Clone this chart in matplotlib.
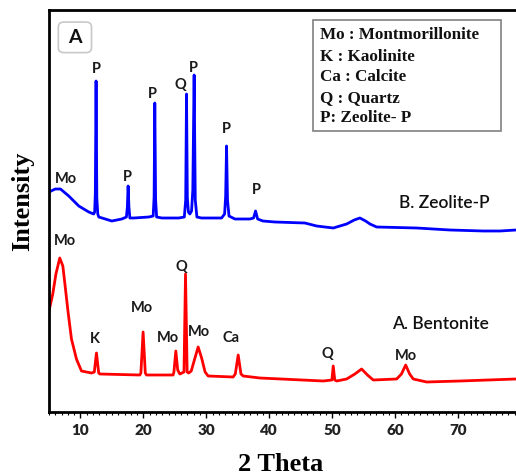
import matplotlib
matplotlib.use("Agg")
import matplotlib.pyplot as plt
from matplotlib.patches import Rectangle, FancyBboxPatch
from matplotlib.ticker import MultipleLocator

# XRD patterns (2 theta in degrees, intensity in arbitrary units, stacked)
zeolite_2theta = [5.0, 6.0, 6.82, 8.14, 9.73, 11.32, 12.11, 12.25, 12.36, 12.48, 12.6, 12.75, 12.91,
                  14.98, 16.57, 17.3, 17.45, 17.57, 17.7, 17.85, 18.47, 20.86,
                  21.55, 21.7, 21.81, 21.94, 22.1, 22.93, 25.63,
                  26.5, 26.72, 26.85, 26.98, 27.15, 27.38, 27.65, 27.85, 28.06, 28.24, 28.5, 29.24,
                  32.42, 32.9, 33.07, 33.21, 33.36, 33.6, 34.53, 36.91,
                  37.5, 37.82, 38.15, 38.98, 40.89, 45.66, 47.52, 50.16, 52.29, 53.5, 54.4,
                  55.3, 56.0, 57.06, 63.42, 68.71, 74.0, 76.66, 79.2]
zeolite_int = [220, 223, 223, 216, 206, 200, 198, 200, 218, 331, 214, 198, 195,
               191, 193, 195, 205, 226, 205, 194, 194, 195,
               196, 215, 309, 212, 195, 194, 194,
               195, 212, 318, 214, 200, 198, 201, 222, 337, 212, 195, 194,
               194, 198, 216, 266, 212, 196, 193, 193,
               194, 201, 193, 191, 190, 189, 186, 184, 188, 192, 194,
               191, 188, 185, 184, 182, 181, 181, 182]

bentonite_2theta = [5.0, 5.6, 6.1, 6.71, 7.2, 7.6, 8.03, 8.57, 9.36, 10.16, 11.75,
                    12.2, 12.54, 12.9, 13.07, 19.43, 19.6, 19.95, 20.3, 20.49,
                    24.72, 24.85, 25.15, 25.45, 25.79, 26.45, 26.69, 26.95, 27.2,
                    27.6, 28.1, 28.7, 29.25, 29.8, 30.29, 34.26, 34.6, 35.06, 35.5, 35.85,
                    38.5, 48.57, 49.95, 50.16, 50.4, 50.7, 52.29, 53.6, 54.67, 55.6, 56.52,
                    60.24, 61.0, 61.67, 62.3, 62.88, 65.0, 70.3, 79.2]
bentonite_int = [101, 118, 138, 154, 146, 124, 100, 73, 53, 41, 39,
                 40, 59, 39, 38, 37, 39, 80, 39, 37,
                 37, 40, 61, 42, 38, 40, 138, 40, 39,
                 41, 52, 65, 54, 40, 36, 35, 38, 57, 38, 36,
                 34, 31, 32, 46, 32, 31, 33, 38, 43, 37, 32,
                 33, 38, 47, 38, 33, 30, 31, 33]

# phase labels over the peaks
zeolite_labels = ["Mo", "P", "P", "P", "Q", "P", "P", "P"]
zeolite_label_x = [7.66, 12.51, 17.52, 21.49, 25.95, 28.01, 33.26, 37.87]
zeolite_label_y = [234, 344, 236, 319, 328, 345, 284, 223]

bentonite_labels = ["Mo", "K", "Mo", "Mo", "Q", "Mo", "Ca", "Q", "Mo"]
bentonite_label_x = [7.50, 12.27, 19.75, 23.96, 26.03, 28.81, 33.97, 49.24, 61.72]
bentonite_label_y = [172, 74, 105, 75, 146, 81, 75, 59, 57]

key_lines = ["Mo : Montmorillonite", "K : Kaolinite", "Ca : Calcite", "Q : Quartz", "P: Zeolite- P"]

fig = plt.figure(figsize=(5.16, 4.77), dpi=100)
ax = fig.add_axes([49 / 516, 1 - 413 / 477, 1 - 49 / 516, 402 / 477])

ax.plot(zeolite_2theta, zeolite_int, color="#0000ff", lw=2.0, solid_joinstyle="round")
ax.plot(bentonite_2theta, bentonite_int, color="#ff0000", lw=2.0, solid_joinstyle="round")

ax.set_xlim(5, 79.2)
ax.set_ylim(0, 402)

lab_font = dict(family="Lato", weight="bold", fontsize=10.5, color="#1a1a1a", ha="center", va="center")
for t, x, y in zip(zeolite_labels, zeolite_label_x, zeolite_label_y):
    ax.text(x, y, t, **lab_font)
for t, x, y in zip(bentonite_labels, bentonite_label_x, bentonite_label_y):
    ax.text(x, y, t, **lab_font)

ax.text(67.76, 210, "B. Zeolite-P", family="Lato", weight="semibold", fontsize=12.5,
        color="#111111", ha="center", va="center")
ax.text(67.2, 89, "A. Bentonite", family="Lato", weight="semibold", fontsize=12.5,
        color="#111111", ha="center", va="center")

# key box with phase abbreviations
ax.add_patch(Rectangle((0.565, 0.699), 0.403, 0.276, transform=ax.transAxes,
                       facecolor="white", edgecolor="#808080", lw=1.2))
key_y = [0.940, 0.886, 0.836, 0.784, 0.734]
for t, y in zip(key_lines, key_y):
    ax.text(0.580, y, t, transform=ax.transAxes, family="Liberation Serif", weight="bold",
            fontsize=12.3, color="#111111", ha="left", va="center")

# panel letter
ax.add_patch(FancyBboxPatch((0.020, 0.894), 0.071, 0.076, transform=ax.transAxes,
                            boxstyle="round,pad=0,rounding_size=0.012",
                            facecolor="white", edgecolor="#c8c8c8", lw=1.2))
ax.text(0.0557, 0.933, "A", transform=ax.transAxes, family="Lato", weight="bold",
        fontsize=14, color="#111111", ha="center", va="center")

for side in ["left", "bottom", "top"]:
    ax.spines[side].set_linewidth(2.0)
ax.spines["right"].set_visible(False)

ax.set_yticks([])
ax.xaxis.set_major_locator(MultipleLocator(10))
ax.xaxis.set_minor_locator(MultipleLocator(1))
ax.tick_params(axis="x", which="major", direction="out", length=4, width=1.0, pad=4)
ax.tick_params(axis="x", which="minor", direction="out", length=2.5, width=0.8)
for lbl in ax.get_xticklabels():
    lbl.set_family("Lato")
    lbl.set_fontweight("heavy")
    lbl.set_fontsize(11)
    lbl.set_color("#222222")

ax.set_xlabel("2 Theta", family="Liberation Serif", weight="bold", fontsize=19)
ax.xaxis.set_label_coords(0.497, -0.127)
ax.xaxis.label.set_va("center")
ax.set_ylabel("Intensity", family="Liberation Serif", weight="bold", fontsize=19)
ax.yaxis.set_label_coords(-0.056, 0.527)
ax.yaxis.label.set_va("center")

fig.savefig("out.png", dpi=100)
